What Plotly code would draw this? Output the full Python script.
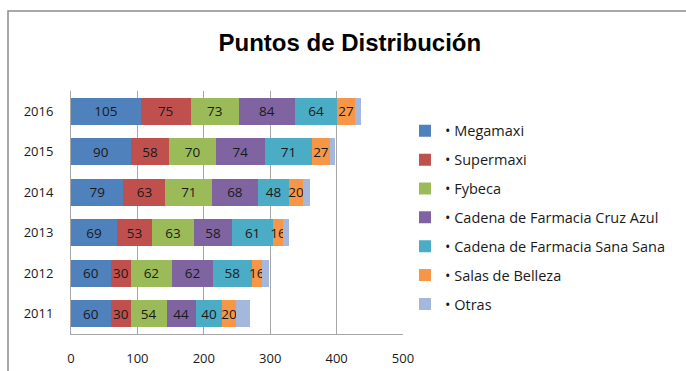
import plotly.graph_objects as go

years = ["2011", "2012", "2013", "2014", "2015", "2016"]
series_names = ["• Megamaxi", "• Supermaxi", "• Fybeca", "• Cadena de Farmacia Cruz Azul",
                "• Cadena de Farmacia Sana Sana", "• Salas de Belleza", "• Otras"]
megamaxi = [60, 60, 69, 79, 90, 105]
supermaxi = [30, 30, 53, 63, 58, 75]
fybeca = [54, 62, 63, 71, 70, 73]
cruz_azul = [44, 62, 58, 68, 74, 84]
sana_sana = [40, 58, 61, 48, 71, 64]
salas = [20, 16, 16, 20, 27, 27]
otras = [22, 10, 8, 11, 8, 8]
x_ticks = [0, 100, 200, 300, 400, 500]

values = [megamaxi, supermaxi, fybeca, cruz_azul, sana_sana, salas, otras]
colors = ["#4F81BD", "#C0504D", "#9BBB59", "#8064A2", "#4BACC6", "#F79646", "#A3B8DC"]
show_labels = [True, True, True, True, True, True, False]

fig = go.Figure()
for i, (name, vals, col, lab) in enumerate(zip(series_names, values, colors, show_labels)):
    fig.add_trace(go.Bar(
        y=years, x=vals, name=name, orientation="h",
        marker=dict(color=col, line=dict(width=0)),
        text=[str(v) for v in vals] if lab else None,
        textposition="inside" if lab else "none",
        insidetextanchor="middle",
        textfont=dict(color="#1a1a1a", size=13.5, family="Open Sans"),
        legendgroup=f"g{i}",
        hoverinfo="x+name",
    ))

fig.update_layout(
    width=686, height=371,
    barmode="stack", bargap=0.33,
    paper_bgcolor="white", plot_bgcolor="white",
    margin=dict(l=71, r=283, t=91, b=37, autoexpand=False),
    title=dict(text="<b>Puntos de Distribución</b>", x=0.51, xanchor="center",
               y=0.885, yanchor="middle",
               font=dict(family="Liberation Sans", size=24, color="black")),
    uniformtext=dict(minsize=13.5, mode="show"),
    font=dict(family="Open Sans", size=13, color="#1a1a1a"),
    legend=dict(x=1.006, xanchor="left", y=0.48, yanchor="middle",
                traceorder="grouped", tracegroupgap=7,
                font=dict(family="Open Sans", size=14.5, color="#1a1a1a"),
                itemwidth=30, bgcolor="rgba(0,0,0,0)"),
    showlegend=True,
)
fig.update_xaxes(range=[0, 500], tickvals=x_ticks, ticktext=[str(t) for t in x_ticks],
                 showgrid=True, gridcolor="#A6A6A6", gridwidth=1, zeroline=False,
                 showline=True, linecolor="#A6A6A6", ticks="", ticklabelstandoff=12,
                 tickfont=dict(family="Open Sans", size=13, color="#1a1a1a"))
fig.update_yaxes(showgrid=False, showline=True, linecolor="#A6A6A6", ticks="",
                 ticklabelstandoff=14,
                 tickfont=dict(family="Open Sans", size=13, color="#1a1a1a"))

# outer chart border (partially cropped like the original)
fig.add_shape(type="rect", xref="paper", yref="paper",
              x0=-63/332, x1=1000/332, y0=-2, y1=(371-11-37)/243,
              line=dict(color="#8C8C8C", width=1.5), fillcolor="rgba(0,0,0,0)", layer="below")

fig.write_html("out.html")
